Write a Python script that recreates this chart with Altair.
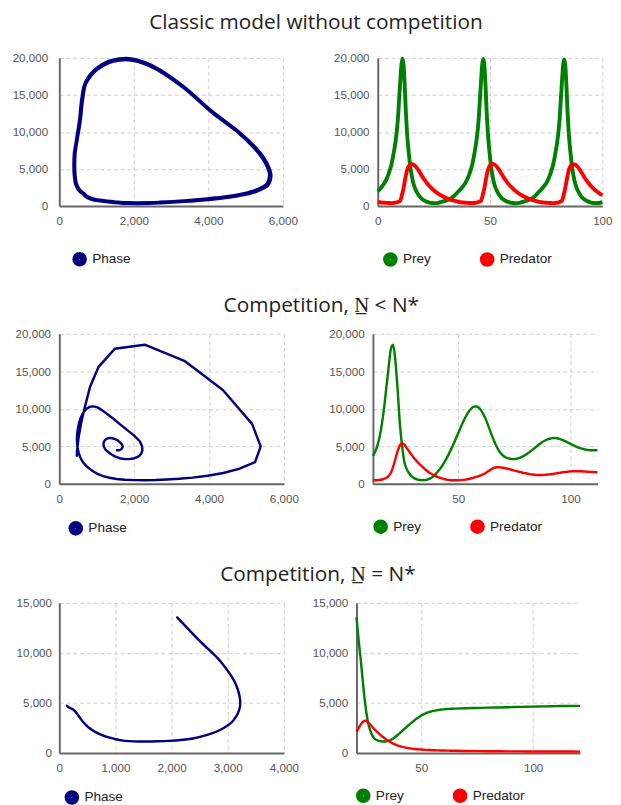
import altair as alt
import pandas as pd

# ---------------- Row 1: classic model without competition ----------------
t_classic = [0, 1, 2, 3, 4, 5, 6, 7, 8, 8.5, 9, 9.5, 10, 10.5, 11, 11.5, 12, 12.5, 13, 13.5, 14, 14.5, 15, 15.5,
             16, 17, 18, 19, 20, 21, 22, 23, 24, 25, 26, 27, 28,
             29, 30, 31, 32, 33, 34, 35, 36, 37, 38, 39, 40, 41, 42, 43, 44, 44.5, 45, 45.5, 46, 46.5, 47, 47.5,
             48, 48.5, 49, 49.5, 50, 50.5, 51, 51.5, 52, 53, 54, 55, 56, 57, 58, 59, 60, 61, 62, 63, 64,
             65, 66, 67, 68, 69, 70, 71, 72, 73, 74, 75, 76, 77, 78, 79, 80, 80.5, 81, 81.5, 82, 82.5, 83, 83.5,
             84, 84.5, 85, 85.5, 86, 86.5, 87, 87.5, 88, 89, 90, 91, 92, 93, 94, 95, 96, 97, 98, 99, 100]
prey_classic = [2000, 2300, 2700, 3100, 3700, 4500, 5500, 7000, 8900, 10200, 11900, 14400, 16800, 19000, 19900,
                19000, 16200, 12700, 10000, 8100, 6600, 5200, 4300, 3500, 2900, 2100, 1550, 1150, 880, 700, 560,
                470, 410, 390, 400, 440, 520,
                630, 710, 810, 930, 1110, 1360, 1690, 2000, 2320, 2700, 3120, 3720, 4520, 5520, 7050, 8950,
                10250, 12000, 14500, 16900, 19100, 19850, 18900, 16100, 12600, 9950, 8050, 6550, 5150, 4250, 3450,
                2850, 2080, 1530, 1140, 870, 690, 555, 465, 405, 385, 395, 435, 515,
                610, 695, 795, 915, 1090, 1340, 1680, 1990, 2290, 2690, 3090, 3690, 4490, 5480, 6980, 8870,
                10150, 11850, 14350, 16750, 18950, 19800, 18950, 16250, 12750, 10050, 8150, 6650, 5250, 4350, 3550,
                2950, 2130, 1570, 1160, 890, 705, 565, 475, 415, 395, 405, 445, 525]
pred_classic = [560, 510, 470, 440, 420, 405, 400, 410, 470, 510, 560, 610, 720, 1150, 1800, 2450, 3300, 4100,
                4800, 5200, 5450, 5600, 5650, 5630, 5580, 5300, 4900, 4400, 3900, 3450, 3050, 2700, 2400, 2100,
                1870, 1650, 1470,
                1310, 1150, 1010, 900, 800, 720, 650, 570, 515, 475, 445, 425, 410, 405, 415, 470,
                515, 565, 620, 730, 1160, 1810, 2460, 3320, 4120, 4820, 5220, 5470, 5620, 5670, 5650,
                5590, 5310, 4910, 4410, 3910, 3460, 3060, 2710, 2410, 2110, 1880, 1660, 1480,
                1300, 1145, 1005, 895, 795, 715, 645, 560, 510, 470, 440, 420, 405, 400, 410, 468,
                508, 558, 610, 720, 1140, 1790, 2440, 3290, 4090, 4790, 5190, 5440, 5600, 5650, 5630,
                5575, 5295, 4895, 4395, 3895, 3445, 3045, 2695, 2395, 2095, 1865, 1645, 1465]

# ---------------- Row 2: competition, N < N* ----------------
t_below = [12, 13, 14, 15, 16, 17, 18, 19, 20, 21, 22, 23, 24, 25, 26, 27, 28, 29, 30, 31, 32, 33, 34, 35, 36,
           37, 38, 39, 40, 41, 42, 43, 44, 45, 46, 47, 48, 49, 50, 51, 52, 53, 54, 55, 56, 57, 58, 59, 60, 61,
           62, 63, 64, 65, 66, 67, 68, 69, 70, 71, 72, 73, 74, 75, 76, 77, 78, 79, 80, 81, 82, 83, 84, 85, 86,
           87, 88, 89, 90, 91, 92, 93, 94, 95, 96, 97, 98, 99, 100, 101, 102, 103, 104, 105, 106, 107, 108, 109,
           110, 111, 112]
prey_below = [3740, 4300, 5100, 6300, 8000, 10200, 12900, 15600, 18000, 18550, 16400, 12500, 8000, 5000, 2900,
              2000, 1450, 1080, 830, 670, 570, 510, 490, 500, 550, 650, 810, 1040, 1330, 1680, 2050, 2480, 2980,
              3530, 4100, 4730, 5380, 6080, 6780, 7480, 8150, 8780, 9330, 9780, 10100, 10290, 10320, 10190, 9860,
              9380, 8780, 8030, 7230, 6430, 5680, 5010, 4460, 4050, 3750, 3550, 3420, 3340, 3300, 3300, 3340,
              3420, 3550, 3700, 3880, 4080, 4300, 4530, 4780, 5020, 5250, 5470, 5670, 5830, 5960, 6050, 6100,
              6110, 6080, 6000, 5900, 5770, 5630, 5480, 5330, 5180, 5040, 4910, 4790, 4690, 4610, 4550, 4500,
              4480, 4470, 4470, 4480]
pred_below = [470, 470, 490, 520, 580, 680, 820, 1050, 1480, 2280, 3340, 4370, 5150, 5380, 5230, 4800, 4380,
              3960, 3560, 3200, 2870, 2570, 2300, 2000, 1750, 1530, 1340, 1170, 1020, 900, 800, 700, 620, 560,
              520, 490, 475, 470, 480, 500, 530, 570, 620, 680, 750, 830, 920, 1020, 1130, 1260, 1420, 1600,
              1800, 2000, 2150, 2210, 2220, 2190, 2140, 2080, 2010, 1930, 1850, 1770, 1690, 1610, 1540, 1470,
              1410, 1350, 1290, 1240, 1210, 1190, 1180, 1185, 1200, 1220, 1250, 1280, 1320, 1370, 1420, 1470,
              1520, 1560, 1600, 1630, 1660, 1680, 1690, 1690, 1680, 1670, 1650, 1630, 1610, 1590, 1570, 1550,
              1540]

# ---------------- Row 3: competition, N = N* ----------------
t_equal = [21, 22, 23, 24, 25, 26, 27, 28, 29, 30, 31, 32, 33, 34, 35, 36, 37, 38, 39, 40, 41, 42, 43, 44, 45,
           46, 47, 48, 49, 50, 51, 52, 53, 54, 55, 56, 57, 58, 59, 60, 61, 62, 63, 64, 65, 70, 75, 80, 85, 90,
           95, 100, 105, 110, 115, 121]
prey_equal = [13550, 11200, 9100, 6800, 4700, 3250, 2350, 1780, 1450, 1290, 1210, 1170, 1150, 1150, 1180, 1260,
              1400, 1550, 1720, 1910, 2110, 2320, 2520, 2720, 2910, 3090, 3270, 3440, 3600, 3740, 3860, 3960,
              4050, 4120, 4180, 4230, 4270, 4310, 4340, 4360, 4380, 4400, 4410, 4420, 4430, 4470, 4500, 4530,
              4550, 4580, 4610, 4630, 4660, 4680, 4700, 4710]
pred_equal = [2100, 2500, 2880, 3150, 3220, 3100, 2880, 2620, 2380, 2160, 1950, 1750, 1570, 1400, 1250, 1110,
              990, 880, 790, 710, 640, 580, 530, 490, 455, 425, 400, 378, 358, 340, 325, 311, 299, 288, 278,
              269, 261, 254, 247, 241, 236, 231, 226, 221, 217, 200, 187, 177, 168, 161, 155, 150, 146, 142,
              139, 136]

titles = ["Classic model without competition", "Competition, N\u0332 < N*", "Competition, N\u0332 = N*"]
series_names = ["Prey", "Predator"]
phase_name = "Phase"
y_ticks_20k = [0, 5000, 10000, 15000, 20000]
y_ticks_15k = [0, 5000, 10000, 15000]
phase_ticks_6k = [0, 2000, 4000, 6000]
phase_ticks_4k = [0, 1000, 2000, 3000, 4000]
time_ticks_top = [0, 50, 100]
time_ticks = [50, 100]

NAVY, GREEN, RED = "#000080", "#008000", "#ff0000"
LABEL_FONT = "Arial, Liberation Sans, sans-serif"


def axis(values, pad):
    return alt.Axis(values=values, format=",d", title=None, ticks=False, grid=True,
                    gridColor="#cccccc", gridDash=[4, 3], gridWidth=1,
                    domainColor="#666666", domainWidth=2,
                    labelColor="#555555", labelFont=LABEL_FONT, labelFontSize=12,
                    labelPadding=pad, labelOverlap=False, labelFlush=False)


def legend(x, y):
    return alt.Legend(title=None, orient="none", legendX=x, legendY=y, direction="horizontal",
                      symbolType="circle", symbolSize=50, symbolStrokeWidth=8, symbolOpacity=1,
                      labelFont=LABEL_FONT, labelFontSize=14, labelColor="#222222",
                      labelOffset=5, columnPadding=38, padding=0)


def phase_chart(t, prey, pred, xmax, xticks, ymax, yticks, w, h, sw, interp, lx, ly, ypad):
    df = pd.DataFrame({"t": t, "Prey": prey, "Predator": pred, "series": phase_name})
    return alt.Chart(df).mark_line(strokeWidth=sw, interpolate=interp, strokeJoin="round",
                                   strokeCap="round").encode(
        x=alt.X("Predator:Q", scale=alt.Scale(domain=[0, xmax], nice=False), axis=axis(xticks, 10)),
        y=alt.Y("Prey:Q", scale=alt.Scale(domain=[0, ymax], nice=False), axis=axis(yticks, ypad)),
        order=alt.Order("t:Q"),
        color=alt.Color("series:N", scale=alt.Scale(domain=[phase_name], range=[NAVY]),
                        legend=legend(lx, ly)),
    ).properties(width=w, height=h)


def time_chart(t, prey, pred, xdom, xticks, ymax, yticks, w, h, sw, lx, ly):
    df = pd.DataFrame({"t": list(t) + list(t), "value": list(prey) + list(pred),
                       "series": [series_names[0]] * len(t) + [series_names[1]] * len(t)})
    return alt.Chart(df).mark_line(strokeWidth=sw, interpolate="monotone").encode(
        x=alt.X("t:Q", scale=alt.Scale(domain=xdom, nice=False, zero=False), axis=axis(xticks, 10)),
        y=alt.Y("value:Q", scale=alt.Scale(domain=[0, ymax], nice=False), axis=axis(yticks, 9)),
        color=alt.Color("series:N", scale=alt.Scale(domain=series_names, range=[GREEN, RED]),
                        sort=series_names, legend=legend(lx, ly)),
    ).properties(width=w, height=h)


def row(left, right, title, spacing, offset, dx):
    return alt.hconcat(left, right, spacing=spacing).properties(
        title=alt.TitleParams(title, font="Open Sans", fontSize=21.5, fontWeight="normal",
                              color="#222222", anchor="middle", offset=offset, dx=dx)
    ).resolve_scale(color="independent").resolve_legend(color="independent")


row1 = row(
    phase_chart(t_classic, prey_classic, pred_classic, 6000, phase_ticks_6k, 20000, y_ticks_20k,
                231, 153, 4, "catmull-rom", 13, 200, 12),
    time_chart(t_classic, prey_classic, pred_classic, [0, 100], time_ticks_top, 20000, y_ticks_20k,
               232, 153, 4, 5, 200),
    titles[0], 36, 18, 4)
row2 = row(
    phase_chart(t_below, prey_below, pred_below, 6000, phase_ticks_6k, 20000, y_ticks_20k,
                232, 155, 2.5, "linear", 9, 193, 9),
    time_chart(t_below, prey_below, pred_below, [12, 112], time_ticks, 20000, y_ticks_20k,
               232, 155, 2.5, 0, 191),
    titles[1], 30, 12, 13)
row3 = row(
    phase_chart(t_equal, prey_equal, pred_equal, 4000, phase_ticks_4k, 15000, y_ticks_15k,
                232, 155, 2.5, "catmull-rom", 5, 193, 8),
    time_chart(t_equal, prey_equal, pred_equal, [21, 121], time_ticks, 15000, y_ticks_15k,
               231, 155, 2.5, -1, 191),
    titles[2], 13, 12, 18)

chart = alt.vconcat(row1, row2, row3, spacing=17).resolve_scale(color="independent").resolve_legend(
    color="independent").properties(
    padding={"left": 4, "top": -9, "right": 0, "bottom": 0}, background="white"
).configure_view(stroke=None)

chart.save("out.html", embed_options={"renderer": "svg", "actions": False})
